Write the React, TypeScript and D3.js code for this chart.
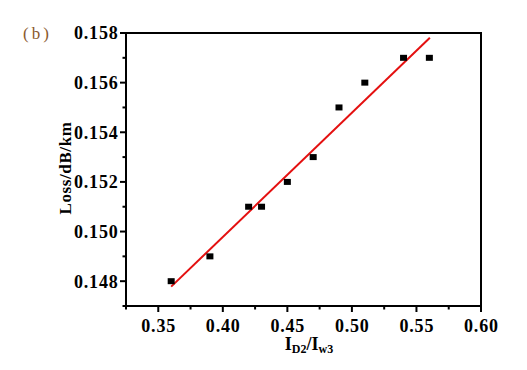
import React from "react";
import * as d3 from "d3";

const ratio = [0.36, 0.39, 0.42, 0.43, 0.45, 0.47, 0.49, 0.51, 0.54, 0.56];
const loss = [0.148, 0.149, 0.151, 0.151, 0.152, 0.153, 0.155, 0.156, 0.157, 0.157];
const fitX = [0.36, 0.5604];
const fitY = [0.14778, 0.15781];
const xTicks = [0.35, 0.4, 0.45, 0.5, 0.55, 0.6];
const xMinor = [0.325, 0.375, 0.425, 0.475, 0.525, 0.575];
const yTicks = [0.148, 0.15, 0.152, 0.154, 0.156, 0.158];
const yMinor = [0.147, 0.149, 0.151, 0.153, 0.155, 0.157];

const W = 527, H = 370;
const L = 126, R = 481, T = 33, B = 306;

const serif = "Liberation Serif";
const boldStyle = { fontFamily: serif, fontWeight: 700 } as React.CSSProperties;

export default function App() {
  const x = d3.scaleLinear().domain([0.325, 0.6]).range([L, R]);
  const y = d3.scaleLinear().domain([0.147, 0.158]).range([B, T]);
  const line = d3.line<number>().x((d) => x(fitX[d])).y((d) => y(fitY[d]));
  return (
    <div style={{ position: "fixed", left: 0, top: 0 }}>
      <svg width={W} height={H} style={{ display: "block", background: "#fff" }}>
        <text x={23} y={38.5} fontSize={17} fill="#8a5a2e" letterSpacing={3} style={{ fontFamily: serif }}>(b)</text>
        {/* frame */}
        <rect x={L} y={T} width={R - L} height={B - T} fill="none" stroke="#000" strokeWidth={2} />
        {/* y ticks */}
        {yTicks.map((t) => (
          <g key={"y" + t}>
            <line x1={L - 6} x2={L} y1={y(t)} y2={y(t)} stroke="#000" strokeWidth={2} />
            <text x={118.5} y={y(t)} dy="0.36em" textAnchor="end" fontSize={18} letterSpacing={0.8} style={boldStyle}>
              {d3.format(".3f")(t)}
            </text>
          </g>
        ))}
        {yMinor.map((t) => (
          <line key={"ym" + t} x1={L - 3.5} x2={L} y1={y(t)} y2={y(t)} stroke="#000" strokeWidth={2} />
        ))}
        {/* x ticks */}
        {xTicks.map((t) => (
          <g key={"x" + t}>
            <line x1={x(t)} x2={x(t)} y1={B} y2={B + 6} stroke="#000" strokeWidth={2} />
            <text x={x(t) + 0.4} y={331.5} textAnchor="middle" fontSize={18} letterSpacing={0.8} style={boldStyle}>
              {d3.format(".2f")(t)}
            </text>
          </g>
        ))}
        {xMinor.map((t) => (
          <line key={"xm" + t} x1={x(t)} x2={x(t)} y1={B} y2={B + 3.5} stroke="#000" strokeWidth={2} />
        ))}
        {/* axis titles */}
        <text transform={`translate(71,168) rotate(-90)`} textAnchor="middle" fontSize={17} letterSpacing={0.6} style={boldStyle}>
          Loss/dB/km
        </text>
        <text x={309} y={350} textAnchor="middle" fontSize={18} style={boldStyle}>
          I<tspan fontSize={12} dy={3}>D2</tspan>
          <tspan dy={-3}>/I</tspan>
          <tspan fontSize={12} dy={3}>w3</tspan>
        </text>
        {/* fit line */}
        <path d={line([0, 1]) || ""} fill="none" stroke="#e41010" strokeWidth={2} />
        {/* points */}
        {ratio.map((r, i) => (
          <rect key={i} x={x(r) - 3.5} y={y(loss[i]) - 3} width={7} height={6} fill="#000" />
        ))}
      </svg>
    </div>
  );
}
